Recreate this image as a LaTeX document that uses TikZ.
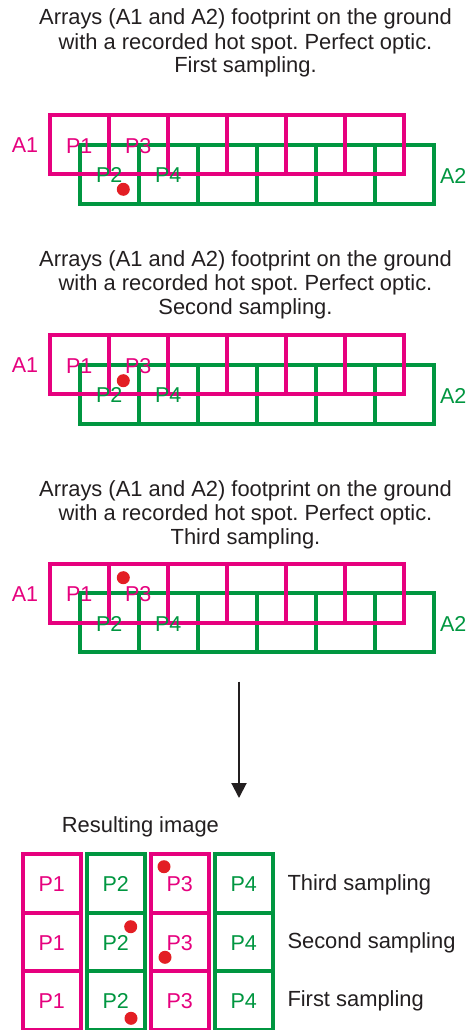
\documentclass[tikz,border=0pt]{standalone}
\usepackage{fontspec}
\setmainfont{Liberation Sans}
\usetikzlibrary{arrows.meta}
\definecolor{mag}{RGB}{230,0,126}
\definecolor{grn}{RGB}{0,150,64}
\definecolor{hot}{RGB}{227,30,36}
\definecolor{ink}{RGB}{35,31,32}
\frenchspacing
\begin{document}
\begin{tikzpicture}[x=1pt,y=-1pt,
 title/.style={font=\fontsize{21.9}{24}\selectfont, text=ink, anchor=base, inner sep=0pt},
 lab/.style={font=\fontsize{21.5}{24}\selectfont, anchor=base, inner sep=0pt},
 magline/.style={draw=mag, line width=4pt},
 grnline/.style={draw=grn, line width=4pt},
 spot/.style={circle, fill=hot, minimum size=13pt, inner sep=0pt},
]
\fill[white] (0,0) rectangle (467,1030);
\useasboundingbox (0,0) rectangle (467,1030);

% titles
\node[title] (t1a) at (245.5,25) {Arrays (A1 and A2) footprint on the ground};
\node[title] (t1b) at (245.5,49.3) {with a recorded hot spot. Perfect optic.};
\node[title] (t1c) at (245.5,72.7) {First sampling.};
\node[title] (t2a) at (245.5,266.7) {Arrays (A1 and A2) footprint on the ground};
\node[title] (t2b) at (245.5,290.7) {with a recorded hot spot. Perfect optic.};
\node[title] (t2c) at (245.5,314) {Second sampling.};
\node[title] (t3a) at (245.5,496.7) {Arrays (A1 and A2) footprint on the ground};
\node[title] (t3b) at (245.5,520.7) {with a recorded hot spot. Perfect optic.};
\node[title] (t3c) at (245.5,544) {Third sampling.};

% panels
\foreach \i/\T in {1/115.3, 2/335.3, 3/563.7} {
  \begin{scope}[shift={(0,\T)}]
    \draw[grnline] (79.7,29.4) rectangle ++(354,59);
    \foreach \k in {1,...,5} \draw[grnline] ({79.7+59*\k},29.4) -- ++(0,59);
    \draw[magline] (49.7,0) rectangle ++(354,59);
    \foreach \k in {1,...,5} \draw[magline] ({49.7+59*\k},0) -- ++(0,59);
    \node[lab, text=mag] (A1-\i) at (25,37.4) {A1};
    \node[lab, text=grn] (A2-\i) at (453.3,68) {A2};
    \node[lab, text=mag] (P1-\i) at (79.2,38) {P1};
    \node[lab, text=mag] (P3-\i) at (138.2,38) {P3};
    \node[lab, text=grn] (P2-\i) at (109.2,67.4) {P2};
    \node[lab, text=grn] (P4-\i) at (168.2,67.4) {P4};
  \end{scope}
}
\node[spot] (h1) at (123.3,189.3) {};
\node[spot] (h2) at (123.3,380.7) {};
\node[spot] (h3) at (123.3,577.7) {};

% arrow
\coordinate (arrS) at (239,681.7);
\coordinate (arrE) at (239,798);
\draw[ink, line width=2pt, -{Triangle[width=15pt,length=15pt]}] (arrS) -- (arrE);

% resulting image
\node[title, anchor=base west] (res) at (61.7,832.7) {Resulting image};
\foreach \c/\x/\col/\lab in {1/22.7/mag/P1, 2/86.7/grn/P2, 3/150.7/mag/P3, 4/214.7/grn/P4} {
  \draw[line width=4pt, draw=\col] (\x,854) rectangle ++(58,176.1);
  \draw[line width=4pt, draw=\col] (\x,912.7) -- ++(58,0);
  \draw[line width=4pt, draw=\col] (\x,971.4) -- ++(58,0);
  \foreach \r/\yb in {1/891.7, 2/950, 3/1008.3}
    \node[lab, text=\col] (g\c\r) at ({\x+29},\yb) {\lab};
}
\node[title, anchor=base west] (s3) at (287.3,890.7) {Third sampling};
\node[title, anchor=base west] (s2) at (287.3,948.3) {Second sampling};
\node[title, anchor=base west] (s1) at (287.3,1006.7) {First sampling};

\node[spot] (r1) at (164,866.7) {};
\node[spot] (r2) at (130.7,926.7) {};
\node[spot] (r3) at (165,957.3) {};
\node[spot] (r4) at (131,1018.3) {};
\end{tikzpicture}
\end{document}
